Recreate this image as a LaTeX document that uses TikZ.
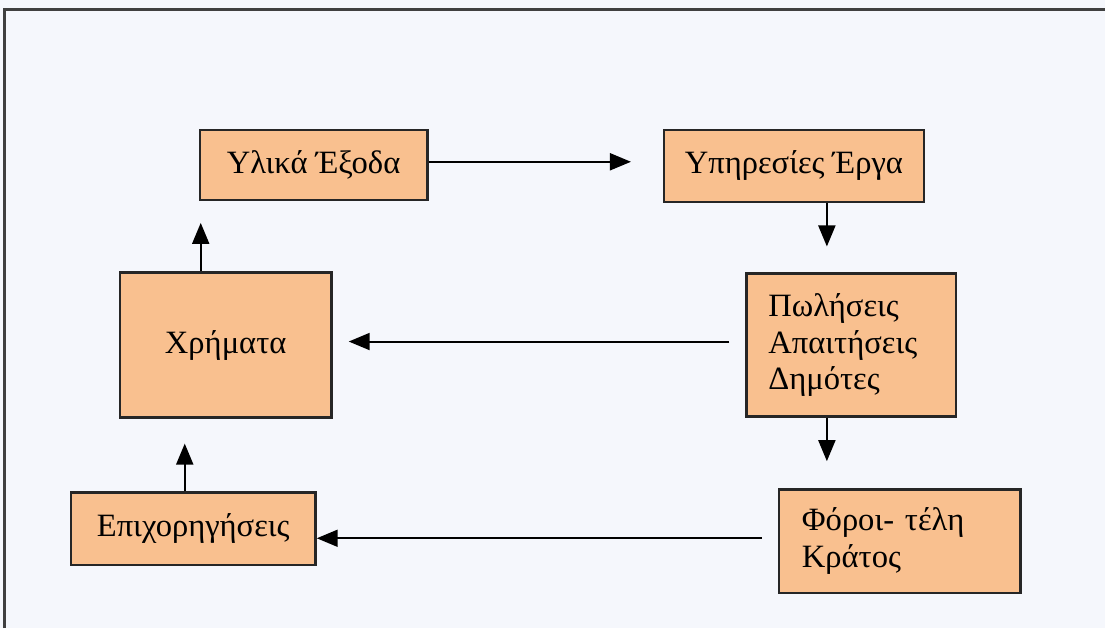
\documentclass[tikz,border=0pt]{standalone}
\usepackage{fontspec}
\setmainfont{Liberation Serif}
\usetikzlibrary{arrows.meta}
\definecolor{boxfill}{RGB}{249,192,143}
\definecolor{paper}{RGB}{245,247,252}
\begin{document}
\begin{tikzpicture}[x=0.5pt,y=-0.5pt,
    box/.style={draw=black!85,line width=1.2pt,fill=boxfill,font=\fontsize{16.3}{18.5}\selectfont},
    arr/.style={-{Triangle[length=10.5pt,width=8.5pt]},line width=1pt}]
    % Paper and frame
    \fill[paper] (0,0) rectangle (1106,629);
    \draw[line width=1.5pt,black!75] (5,629) -- (5,10) -- (1106,10);

    % Boxes
    \node[box,minimum width=114pt,minimum height=35pt] (yl) at (314,165) {Υλικά Έξοδα};
    \node[box,minimum width=130pt,minimum height=36pt] (yp) at (795,166) {Υπηρεσίες Έργα};
    \node[box,minimum width=106pt,minimum height=72.5pt] (xr) at (226,345.5) {Χρήματα};
    \node[box,align=left,inner xsep=11pt,text width=83pt,minimum height=71.5pt] (pol) at (852.5,345.5)
        {Πωλήσεις\\Απαιτήσεις\\Δημότες};
    \node[box,minimum width=122.5pt,minimum height=36.5pt] (ep) at (193.5,529.5) {Επιχορηγήσεις};
    \node[box,align=left,inner xsep=11.5pt,text width=98pt,minimum height=52pt] (fo) at (901,542)
        {Φόροι- τέλη\\Κράτος};

    % Arrows
    \draw[arr,shorten >=16pt] ([yshift=1.5pt]yl.east) -- ([yshift=1.5pt]yl.east -| yp.west);
    \draw[arr,shorten >=13pt] ([xshift=16.5pt]yp.south) -- ([xshift=16.5pt]yp.south |- pol.north);
    \draw[arr,shorten >=13.5pt] ([xshift=-12.25pt]pol.south) -- ([xshift=-12.25pt]pol.south |- fo.north);
    \draw[arr,shorten <=8pt,shorten >=8pt] ([yshift=1.75pt]pol.west) -- ([yshift=1.75pt]pol.west -| xr.east);
    \draw[arr,shorten >=11pt] ([xshift=-12.5pt]xr.north) -- ([xshift=-12.5pt]xr.north |- yl.south);
    \draw[arr,shorten >=12.5pt] ([xshift=-4.25pt]ep.north) -- ([xshift=-4.25pt]ep.north |- xr.south);
    \draw[arr,shorten <=8pt] ([yshift=1.5pt]fo.west) -- ([yshift=1.5pt]fo.west -| ep.east);
\end{tikzpicture}
\end{document}
